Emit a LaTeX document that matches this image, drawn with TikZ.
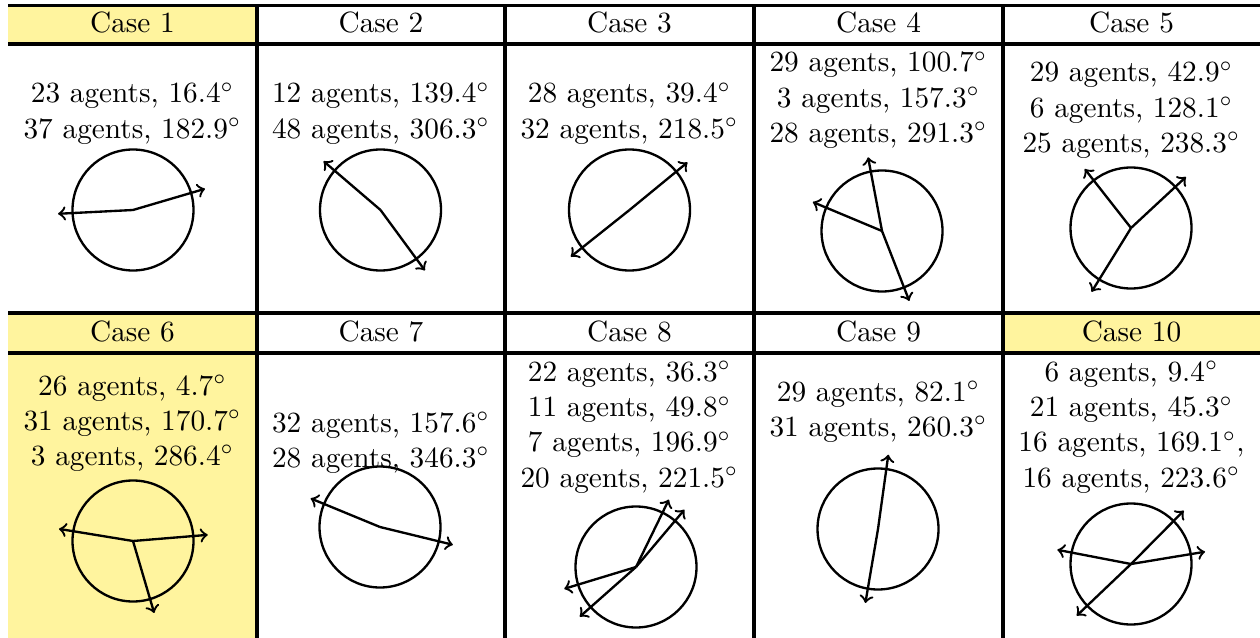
\documentclass[tikz,border=0pt]{standalone}
\usetikzlibrary{calc}
\definecolor{casehl}{RGB}{255,244,158}
\tikzset{
  rule/.style={line width=1.1pt},
  dialring/.style={line width=0.8pt},
  spoke/.style={line width=0.8pt,->},
  lbl/.style={anchor=base, inner sep=0pt},
}
% a circle with one arrow per agent group, at the given angles
\newcommand\agentdial[3]{%
  \coordinate (#1) at (#2);
  \draw[dialring] (#1) circle[radius=60.5];
  \foreach \a [count=\i] in {#3} {
    \coordinate (#1-\i) at ($(#1)+(\a:75)$);
    \draw[spoke] (#1) -- (#1-\i);
  }%
}
% stacked centred lines of text, first baseline at depth #3
\newcommand\celltext[4]{%
  \foreach \s [count=\i] in {#4} {
    \node[lbl] (#1-\i) at (#2,{-#3-35.2*(\i-1)}) {\s};
  }%
}
\begin{document}
\begin{tikzpicture}[x=0.3413pt,y=0.3413pt]
\useasboundingbox (0,0) rectangle (1260,-638);
% highlighted cells
\fill[casehl] (8,-5.5) rectangle (257,-44);
\fill[casehl] (8,-313) rectangle (257,-638);
\fill[casehl] (1003,-313) rectangle (1260,-353);
% table rules
\foreach \y in {5.5,44,313,353} \draw[rule] (8,-\y) -- (1260,-\y);
\foreach \x in {257,505,754,1003} \draw[rule] (\x,-5.5) -- (\x,-638);
% headers
\node[lbl] (h1) at (132.5,-33) {Case 1};
\node[lbl] (h2) at (381,-33) {Case 2};
\node[lbl] (h3) at (629.5,-33) {Case 3};
\node[lbl] (h4) at (878.5,-33) {Case 4};
\node[lbl] (h5) at (1131.5,-33) {Case 5};
\node[lbl] (h6) at (132.5,-341.5) {Case 6};
\node[lbl] (h7) at (381,-341.5) {Case 7};
\node[lbl] (h8) at (629.5,-341.5) {Case 8};
\node[lbl] (h9) at (878.5,-341.5) {Case 9};
\node[lbl] (h10) at (1131.5,-341.5) {Case 10};
% first row
\celltext{t1}{132.5}{103}{{23 agents, 16.4$^\circ$},{37 agents, 182.9$^\circ$}}
\agentdial{c1}{133,-210}{16.4,182.9}
\celltext{t2}{381}{103}{{12 agents, 139.4$^\circ$},{48 agents, 306.3$^\circ$}}
\agentdial{c2}{380.5,-210}{139.4,306.3}
\celltext{t3}{629.5}{103}{{28 agents, 39.4$^\circ$},{32 agents, 218.5$^\circ$}}
\agentdial{c3}{629.5,-210}{39.4,218.5}
\celltext{t4}{878.5}{72}{{29 agents, 100.7$^\circ$},{3 agents, 157.3$^\circ$},{28 agents, 291.3$^\circ$}}
\agentdial{c4}{882,-231}{100.7,157.3,291.3}
\celltext{t5}{1131.5}{82}{{29 agents, 42.9$^\circ$},{6 agents, 128.1$^\circ$},{25 agents, 238.3$^\circ$}}
\agentdial{c5}{1131,-228}{42.9,128.1,238.3}
% second row
\celltext{t6}{132.5}{395}{{26 agents, 4.7$^\circ$},{31 agents, 170.7$^\circ$},{3 agents, 286.4$^\circ$}}
\agentdial{c6}{133,-541}{4.7,170.7,286.4}
\celltext{t7}{381}{432}{{32 agents, 157.6$^\circ$},{28 agents, 346.3$^\circ$}}
\agentdial{c7}{380,-527}{157.6,346.3}
\celltext{t8}{629.5}{381.5}{{22 agents, 36.3$^\circ$},{11 agents, 49.8$^\circ$},{7 agents, 196.9$^\circ$},{20 agents, 221.5$^\circ$}}
\agentdial{c8}{636,-567}{49.8,64,196.9,221.5}
\celltext{t9}{878.5}{401}{{29 agents, 82.1$^\circ$},{31 agents, 260.3$^\circ$}}
\agentdial{c9}{878,-529}{82.1,260.3}
\celltext{t10}{1131.5}{381.5}{{6 agents, 9.4$^\circ$},{21 agents, 45.3$^\circ$},{16 agents, 169.1$^\circ$,},{16 agents, 223.6$^\circ$}}
\agentdial{c10}{1131,-564}{9.4,45.3,169.1,223.6}
\end{tikzpicture}
\end{document}
